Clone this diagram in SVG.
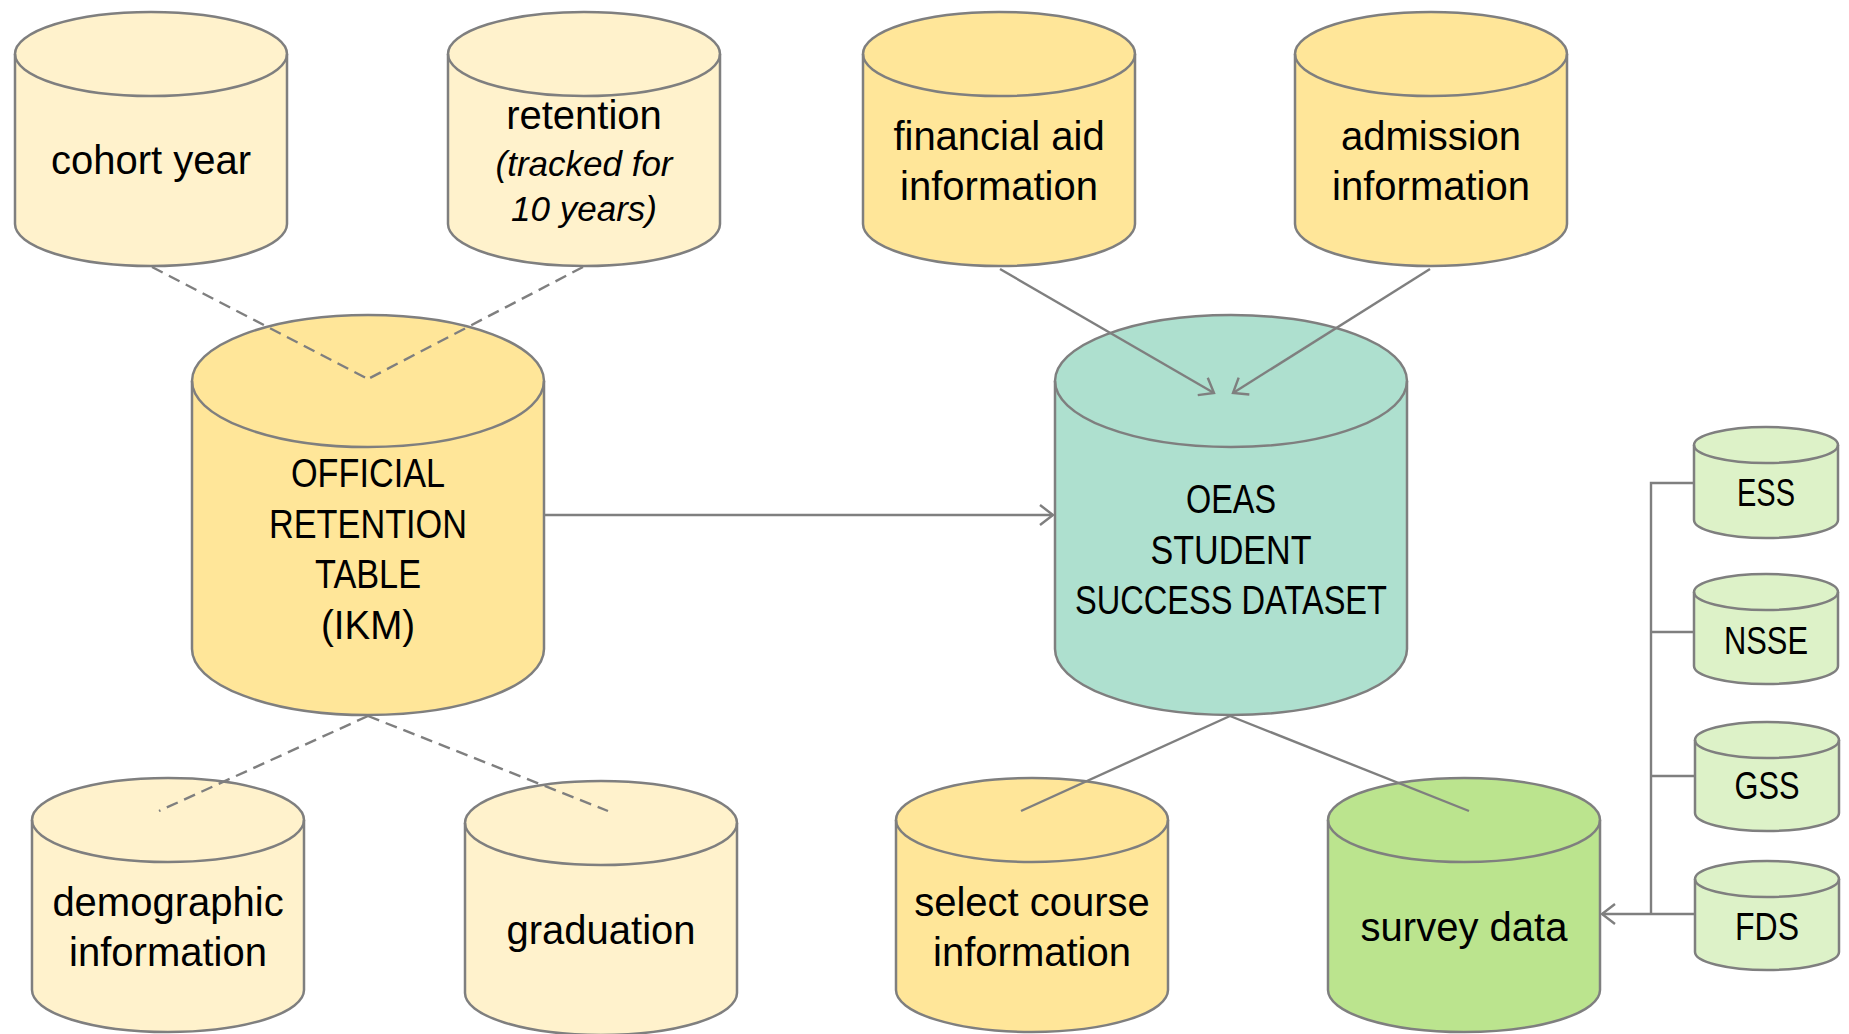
<svg xmlns="http://www.w3.org/2000/svg" width="1849" height="1034" viewBox="0 0 1849 1034">
<style>
.cyl{stroke:#7f7f7f;stroke-width:2.5}
.lt{fill:#fff2cc}.yl{fill:#ffe699}.tl{fill:#aee0cf}.gr{fill:#bbe48e}.sg{fill:#ddf2c8}
.rim{fill:none;stroke:#7f7f7f;stroke-width:2.5}
text{font-family:"Liberation Sans",Arial,sans-serif;font-size:40px;fill:#000;text-anchor:middle}
.it{font-style:italic;font-size:35px}
.sm{font-size:38px}
.c{fill:none;stroke:#7f7f7f;stroke-width:2.4}
.d{stroke-dasharray:12 7}
</style>
<defs>
<marker id="arr" viewBox="0 0 20 22" refX="15" refY="11" markerWidth="20" markerHeight="22" markerUnits="userSpaceOnUse" orient="auto">
<path d="M2,1 L15,11 L2,21" fill="none" stroke="#7f7f7f" stroke-width="2.4"/>
</marker>
</defs>
<rect width="1849" height="1034" fill="#fff"/>

<g id="cohort-year">
<path class="cyl lt" d="M15,54 A136,42 0 0 1 287,54 V224 A136,42 0 0 1 15,224 Z"/>
<path class="rim" d="M15,54 A136,42 0 0 0 287,54"/>
<text x="151" y="174">cohort year</text>
</g>
<g id="retention">
<path class="cyl lt" d="M448,54 A136,42 0 0 1 720,54 V224 A136,42 0 0 1 448,224 Z"/>
<path class="rim" d="M448,54 A136,42 0 0 0 720,54"/>
<text x="584" y="129">retention</text>
<text class="it" x="584" y="176">(tracked for</text>
<text class="it" x="584" y="221">10 years)</text>
</g>
<g id="financial-aid">
<path class="cyl yl" d="M863,54 A136,42 0 0 1 1135,54 V224 A136,42 0 0 1 863,224 Z"/>
<path class="rim" d="M863,54 A136,42 0 0 0 1135,54"/>
<text x="999" y="150">financial aid</text>
<text x="999" y="200">information</text>
</g>
<g id="admission">
<path class="cyl yl" d="M1295,54 A136,42 0 0 1 1567,54 V224 A136,42 0 0 1 1295,224 Z"/>
<path class="rim" d="M1295,54 A136,42 0 0 0 1567,54"/>
<text x="1431" y="150">admission</text>
<text x="1431" y="200">information</text>
</g>
<g id="official-retention-table">
<path class="cyl yl" d="M192,381 A176,66 0 0 1 544,381 V649 A176,66 0 0 1 192,649 Z"/>
<path class="rim" d="M192,381 A176,66 0 0 0 544,381"/>
<text x="368" y="487" textLength="154" lengthAdjust="spacingAndGlyphs">OFFICIAL</text>
<text x="368" y="538" textLength="198" lengthAdjust="spacingAndGlyphs">RETENTION</text>
<text x="368" y="588" textLength="106" lengthAdjust="spacingAndGlyphs">TABLE</text>
<text x="368" y="639" textLength="94" lengthAdjust="spacingAndGlyphs">(IKM)</text>
</g>
<g id="oeas-student-success-dataset">
<path class="cyl tl" d="M1055,381 A176,66 0 0 1 1407,381 V649 A176,66 0 0 1 1055,649 Z"/>
<path class="rim" d="M1055,381 A176,66 0 0 0 1407,381"/>
<text x="1231" y="513" textLength="90" lengthAdjust="spacingAndGlyphs">OEAS</text>
<text x="1231" y="564" textLength="161" lengthAdjust="spacingAndGlyphs">STUDENT</text>
<text x="1231" y="614" textLength="312" lengthAdjust="spacingAndGlyphs">SUCCESS DATASET</text>
</g>
<g id="demographic-information">
<path class="cyl lt" d="M32,820 A136,42 0 0 1 304,820 V990 A136,42 0 0 1 32,990 Z"/>
<path class="rim" d="M32,820 A136,42 0 0 0 304,820"/>
<text x="168" y="916">demographic</text>
<text x="168" y="966">information</text>
</g>
<g id="graduation">
<path class="cyl lt" d="M465,823 A136,42 0 0 1 737,823 V993 A136,42 0 0 1 465,993 Z"/>
<path class="rim" d="M465,823 A136,42 0 0 0 737,823"/>
<text x="601" y="944">graduation</text>
</g>
<g id="select-course-information">
<path class="cyl yl" d="M896,820 A136,42 0 0 1 1168,820 V990 A136,42 0 0 1 896,990 Z"/>
<path class="rim" d="M896,820 A136,42 0 0 0 1168,820"/>
<text x="1032" y="916">select course</text>
<text x="1032" y="966">information</text>
</g>
<g id="survey-data">
<path class="cyl gr" d="M1328,820 A136,42 0 0 1 1600,820 V990 A136,42 0 0 1 1328,990 Z"/>
<path class="rim" d="M1328,820 A136,42 0 0 0 1600,820"/>
<text x="1464" y="941">survey data</text>
</g>
<g id="ess">
<path class="cyl sg" d="M1694,445 A72,18 0 0 1 1838,445 V520 A72,18 0 0 1 1694,520 Z"/>
<path class="rim" d="M1694,445 A72,18 0 0 0 1838,445"/>
<text class="sm" x="1766" y="506" textLength="58" lengthAdjust="spacingAndGlyphs">ESS</text>
</g>
<g id="nsse">
<path class="cyl sg" d="M1694,592 A72,18 0 0 1 1838,592 V666 A72,18 0 0 1 1694,666 Z"/>
<path class="rim" d="M1694,592 A72,18 0 0 0 1838,592"/>
<text class="sm" x="1766" y="654" textLength="84" lengthAdjust="spacingAndGlyphs">NSSE</text>
</g>
<g id="gss">
<path class="cyl sg" d="M1695,740 A72,18 0 0 1 1839,740 V813 A72,18 0 0 1 1695,813 Z"/>
<path class="rim" d="M1695,740 A72,18 0 0 0 1839,740"/>
<text class="sm" x="1767" y="799" textLength="65" lengthAdjust="spacingAndGlyphs">GSS</text>
</g>
<g id="fds">
<path class="cyl sg" d="M1695,879 A72,18 0 0 1 1839,879 V952 A72,18 0 0 1 1695,952 Z"/>
<path class="rim" d="M1695,879 A72,18 0 0 0 1839,879"/>
<text class="sm" x="1767" y="940" textLength="64" lengthAdjust="spacingAndGlyphs">FDS</text>
</g>

<g id="connectors">
<path class="c d" d="M152,267 L368,379"/>
<path class="c d" d="M583,267 L368,379"/>
<path class="c d" d="M368,716 L159,811"/>
<path class="c d" d="M368,716 L608,811"/>
<path class="c" d="M544,515 L1053,515" marker-end="url(#arr)"/>
<path class="c" d="M1000,269 L1214,393" marker-end="url(#arr)"/>
<path class="c" d="M1430,269 L1233,393" marker-end="url(#arr)"/>
<path class="c" d="M1230,716 L1021,811"/>
<path class="c" d="M1230,716 L1469,811"/>
<path class="c" d="M1694,483 H1651 V914 M1651,632 H1694 M1651,776 H1695"/>
<path class="c" d="M1695,914 L1602,914" marker-end="url(#arr)"/>
</g>
</svg>
